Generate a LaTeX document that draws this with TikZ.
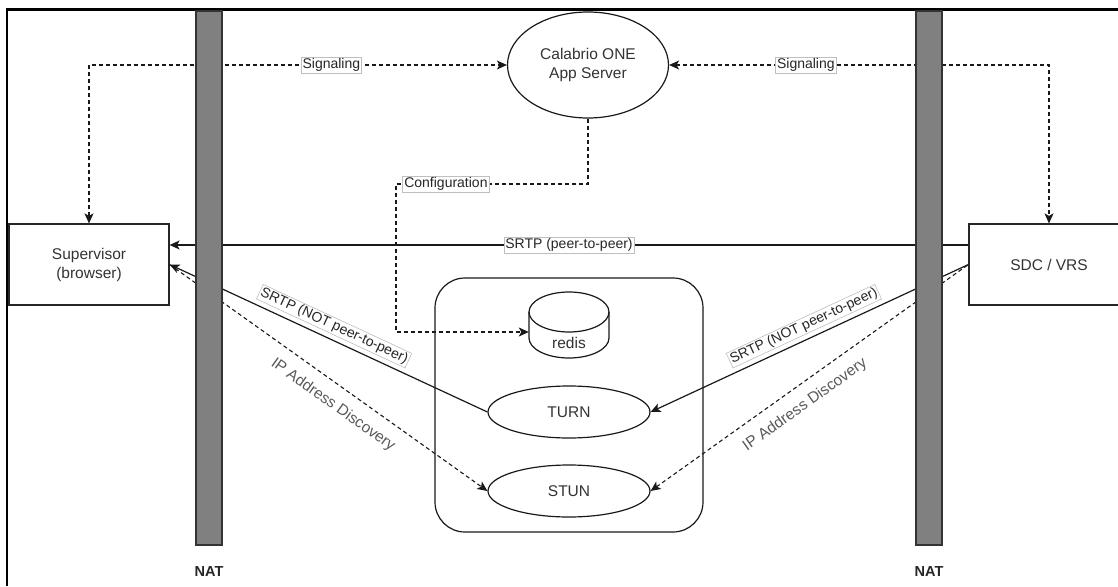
\documentclass[tikz,border=0pt]{standalone}
\usepackage{fontspec}
\setmainfont{Liberation Sans}
\usetikzlibrary{arrows.meta,shapes.geometric}
\definecolor{natgray}{HTML}{808080}

\begin{document}
\begin{tikzpicture}[x=1pt,y=-1pt,
  >={Stealth[length=10pt,width=9pt,inset=2.5pt]},
  txt/.style={text=black!80,font=\fontsize{15.5}{19}\selectfont,align=center},
  box/.style={txt,draw=black!85,line width=1.2pt,minimum width=160pt,minimum height=81pt,inner sep=0pt},
  oval/.style={txt,ellipse,draw=black!90,line width=1.2pt,inner sep=0pt},
  lbl/.style={solid,text=black!85,font=\fontsize{14}{16}\selectfont,fill=white,draw=black!25,line width=0.6pt,inner sep=1.5pt},
  softlbl/.style={text=black!65,font=\fontsize{15.5}{17}\selectfont,inner sep=2pt},
  link/.style={draw=black!90,line width=1.2pt},
  dlink/.style={link,line width=1.1pt,dash pattern=on 4pt off 3pt}]
\useasboundingbox (0,0) rectangle (1118,586);

% Frame
\draw[line width=2.5pt] (7,586) -- (7,9.5) -- (1118,9.5);

% Endpoints and server
\node[box] (sup) at (89,264.5) {Supervisor\\(browser)};
\node[box] (sdc) at (1049,264.5) {SDC / VRS};
\node[oval,minimum width=161pt,minimum height=106pt] (app) at (588,65) {Calabrio ONE\\App Server};

% Media services
\node[draw=black!90,line width=1.2pt,rounded corners=30pt,minimum width=268pt,minimum height=254pt] (media) at (569,405) {};
\node[oval,minimum width=162pt,minimum height=52pt] (turn) at (569,412) {TURN};
\node[oval,minimum width=162pt,minimum height=52pt] (stun) at (569,491) {STUN};

% redis cylinder
\node[minimum width=80pt,minimum height=66pt,inner sep=0pt] (redis) at (569,325) {};
\filldraw[fill=white,draw=black!90,line width=1.2pt] (529,312) -- (529,338)
  arc[start angle=180,end angle=360,x radius=40pt,y radius=20pt] -- (609,312);
\draw[black!90,line width=1.2pt] (569,312) ellipse[x radius=40pt,y radius=20pt];
\node[txt] (redistxt) at (569,343) {redis};

% Signaling
\draw[dlink,<->] (sup.north) |- node[lbl,pos=0.79]{Signaling} (app.west);
\draw[dlink,<->] (app.east) -| node[lbl,pos=0.18]{Signaling} (sdc.north);

% Configuration
\coordinate (cfgbend) at (396,184);
\draw[dlink,->] (app.south) |- node[lbl,pos=0.87]{Configuration} (cfgbend)
  |- ([yshift=-7pt]redis.west);

% SRTP direct
\draw[link,->] ([yshift=19.5pt]sdc.west) -- node[lbl]{SRTP (peer-to-peer)} ([yshift=19.5pt]sup.east);

% SRTP relayed and discovery
\draw[link,<-] (sup.east) -- node[lbl,sloped,above=5pt]{SRTP (NOT peer-to-peer)} (turn.west);
\draw[link,<-] (turn.east) -- node[lbl,sloped,above=5pt]{SRTP (NOT peer-to-peer)} (sdc.west);
\draw[dlink,->] (sup.east) -- node[softlbl,sloped,below=10pt,pos=0.55]{IP Address Discovery} (stun.west);
\draw[dlink,<-] (stun.east) -- node[softlbl,sloped,below=10pt,pos=0.45]{IP Address Discovery} (sdc.west);

% NAT walls
\foreach \nx/\nname in {209/natL,929/natR}{
  \node[fill=natgray,draw=black!80,line width=1.2pt,minimum width=26pt,minimum height=534pt,inner sep=0pt] (\nname) at (\nx,278) {};
  \node[font=\bfseries\fontsize{14.5}{16}\selectfont,text=black!85] (\nname-lbl) at (\nx,572) {NAT};
}

\end{tikzpicture}
\end{document}
